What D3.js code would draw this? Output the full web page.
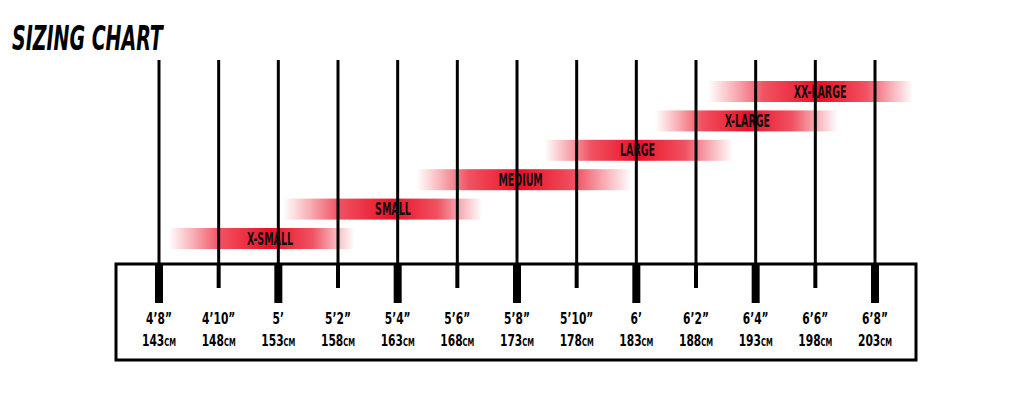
<!DOCTYPE html>
<html><head><meta charset="utf-8">
<script src="https://cdn.jsdelivr.net/npm/d3@7"></script>
<style>
html,body{margin:0;padding:0;background:#fff;}
svg{display:block;}
.cond{font-family:"Liberation Sans Narrow","DejaVu Sans Condensed","Arial Narrow",sans-serif;font-weight:bold;}
</style></head>
<body>
<svg id="c" width="1024" height="401"></svg>
<script>
// ---- data ----
const heightsCm = [143,148,153,158,163,168,173,178,183,188,193,198,203];
const heightsImperial = ["4’8”","4’10”","5’","5’2”","5’4”","5’6”","5’8”","5’10”","6’","6’2”","6’4”","6’6”","6’8”"];
const sizes = ["X-SMALL","SMALL","MEDIUM","LARGE","X-LARGE","XX-LARGE"];
const bandStart = [143.8,153.4,164.6,175.3,184.6,189.0];
const bandEnd   = [159.4,170.1,182.6,191.1,199.9,206.2];
const bandPeak  = [152.3,162.6,173.3,183.1,192.3,198.4];
const title = "SIZING CHART";

// ---- layout ----
const svg = d3.select("#c");
const x = d3.scaleLinear().domain([143,203]).range([159,875]);
const y = d3.scalePoint().domain(sizes.slice().reverse()).range([81,228]);
const bandH = 21;
const lineTop = 60, boxTop = 264, boxBottom = 360, boxLeft = 116, boxRight = 916;

svg.append("text").attr("class","cond")
  .attr("transform","translate(12,50) scale(0.64,1)")
  .attr("font-size",33).attr("font-style","italic")
  .attr("fill","#000").text(title);

// bands
const defs = svg.append("defs");
const bands = sizes.map((s,i)=>({s,i,start:bandStart[i],end:bandEnd[i],peak:bandPeak[i]}));
bands.forEach(d=>{
  const g = defs.append("linearGradient").attr("id","g"+d.i).attr("x1","0").attr("x2","1").attr("y1","0").attr("y2","0");
  const p = (d.peak-d.start)/(d.end-d.start);
  const stops = [[0,0],[p*0.25,0.35],[p*0.5,0.72],[p,1],[p+(1-p)*0.5,0.72],[p+(1-p)*0.75,0.35],[1,0]];
  stops.forEach(([o,a])=>g.append("stop").attr("offset",o).attr("stop-color","#ea1026").attr("stop-opacity",a));
});

svg.append("g").selectAll("rect").data(bands).join("rect")
  .attr("x",d=>x(d.start)).attr("width",d=>x(d.end)-x(d.start))
  .attr("y",d=>y(d.s)).attr("height",bandH)
  .attr("fill",d=>"url(#g"+d.i+")");

// vertical lines
svg.append("g").selectAll("line").data(heightsCm).join("line")
  .attr("x1",d=>x(d)).attr("x2",d=>x(d))
  .attr("y1",lineTop).attr("y2",boxTop)
  .attr("stroke","#000").attr("stroke-width",3);

svg.append("g").selectAll("text").data(bands).join("text").attr("class","cond")
  .attr("transform",d=>`translate(${x(d.peak)},${y(d.s)+bandH/2+6}) scale(0.62,1)`)
  .attr("text-anchor","middle").attr("font-size",17).attr("fill","#111")
  .text(d=>d.s);

// box
svg.append("rect").attr("x",boxLeft).attr("y",boxTop)
  .attr("width",boxRight-boxLeft).attr("height",boxBottom-boxTop)
  .attr("fill","none").attr("stroke","#000").attr("stroke-width",3);

// ticks
svg.append("g").selectAll("rect").data(heightsCm).join("rect")
  .attr("x",(d,i)=>x(d)-(i%2===0?4:2))
  .attr("width",(d,i)=>i%2===0?8:4)
  .attr("y",boxTop)
  .attr("height",(d,i)=>i%2===0?39:24)
  .attr("fill","#000");

// labels
svg.append("g").selectAll("text").data(heightsImperial).join("text").attr("class","cond")
  .attr("transform",(d,i)=>`translate(${x(heightsCm[i])},324) scale(0.72,1)`)
  .attr("text-anchor","middle").attr("font-size",16.5).attr("fill","#000")
  .text(d=>d);

const mt = svg.append("g").selectAll("text").data(heightsCm).join("text").attr("class","cond")
  .attr("transform",d=>`translate(${x(d)},345.5) scale(0.72,1)`)
  .attr("text-anchor","middle").attr("font-size",16.5).attr("fill","#000");
mt.append("tspan").text(d=>d);
mt.append("tspan").attr("font-size",10.5).text("CM");
</script>
</body></html>
